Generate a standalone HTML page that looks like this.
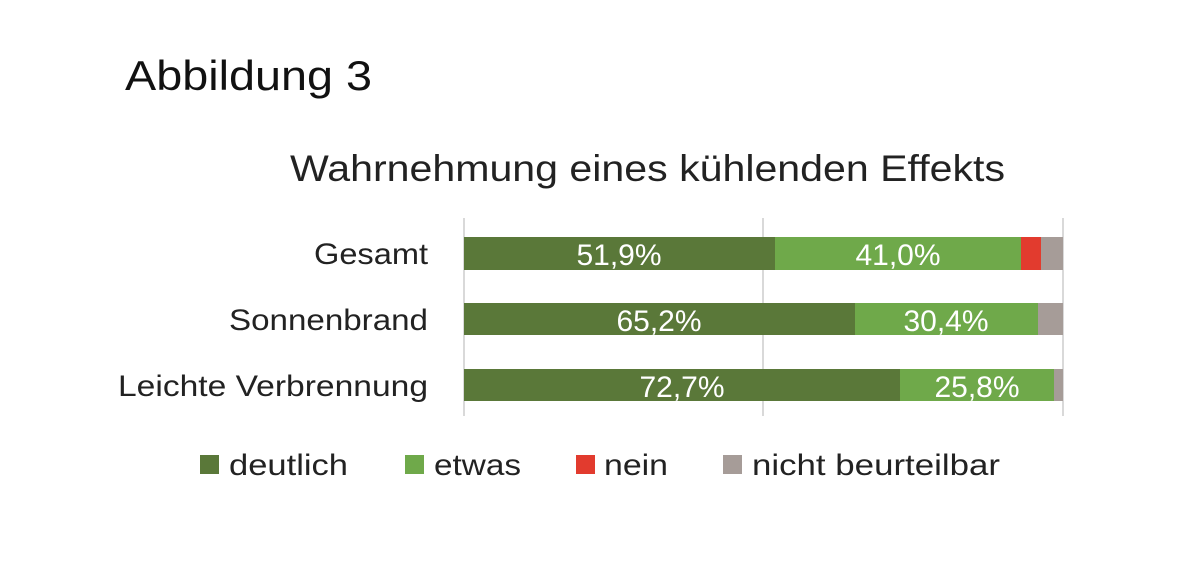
<!DOCTYPE html><html><head><style>body{margin:0;background:#fff}svg text{font-family:"Liberation Sans",sans-serif}</style></head><body>
<svg width="1200" height="557" xmlns="http://www.w3.org/2000/svg">
<rect width="1200" height="557" fill="#fff"/>
<text x="125" y="90" font-size="42" fill="#111" textLength="247" lengthAdjust="spacingAndGlyphs">Abbildung 3</text>
<text x="290" y="181" font-size="37" fill="#222" textLength="715" lengthAdjust="spacingAndGlyphs">Wahrnehmung eines kühlenden Effekts</text>
<g stroke="#d9d9d9" stroke-width="2"><line x1="464" y1="218" x2="464" y2="416"/><line x1="763" y1="218" x2="763" y2="416"/><line x1="1063" y1="218" x2="1063" y2="416"/></g>
<g font-size="30" fill="#222" text-anchor="end"><text x="428" y="264" textLength="114" lengthAdjust="spacingAndGlyphs">Gesamt</text><text x="428" y="330" textLength="199" lengthAdjust="spacingAndGlyphs">Sonnenbrand</text><text x="428" y="396" textLength="310" lengthAdjust="spacingAndGlyphs">Leichte Verbrennung</text></g>
<rect x="464" y="237" width="311" height="33" fill="#5a7839"/><rect x="775" y="237" width="246" height="33" fill="#6fa94a"/><rect x="1021" y="237" width="20" height="33" fill="#e23b2e"/><rect x="1041" y="237" width="22" height="33" fill="#a69c98"/>
<rect x="464" y="303" width="391" height="32" fill="#5a7839"/><rect x="855" y="303" width="183" height="32" fill="#6fa94a"/><rect x="1038" y="303" width="25" height="32" fill="#a69c98"/>
<rect x="464" y="369" width="436" height="32" fill="#5a7839"/><rect x="900" y="369" width="154" height="32" fill="#6fa94a"/><rect x="1054" y="369" width="9" height="32" fill="#a69c98"/>
<g font-size="30" fill="#fff" text-anchor="middle"><text x="619" y="265">51,9%</text><text x="898" y="265">41,0%</text><text x="659" y="331">65,2%</text><text x="946" y="331">30,4%</text><text x="682" y="397">72,7%</text><text x="977" y="397">25,8%</text></g>
<g font-size="30" fill="#222"><rect x="200" y="455" width="19" height="19" fill="#5a7839"/><text x="229" y="475" textLength="119" lengthAdjust="spacingAndGlyphs">deutlich</text>
<rect x="405" y="455" width="19" height="19" fill="#6fa94a"/><text x="434" y="475" textLength="87" lengthAdjust="spacingAndGlyphs">etwas</text>
<rect x="576" y="455" width="19" height="19" fill="#e23b2e"/><text x="604" y="475" textLength="64" lengthAdjust="spacingAndGlyphs">nein</text>
<rect x="723" y="455" width="19" height="19" fill="#a69c98"/><text x="752" y="475" textLength="248" lengthAdjust="spacingAndGlyphs">nicht beurteilbar</text></g>
</svg></body></html>
